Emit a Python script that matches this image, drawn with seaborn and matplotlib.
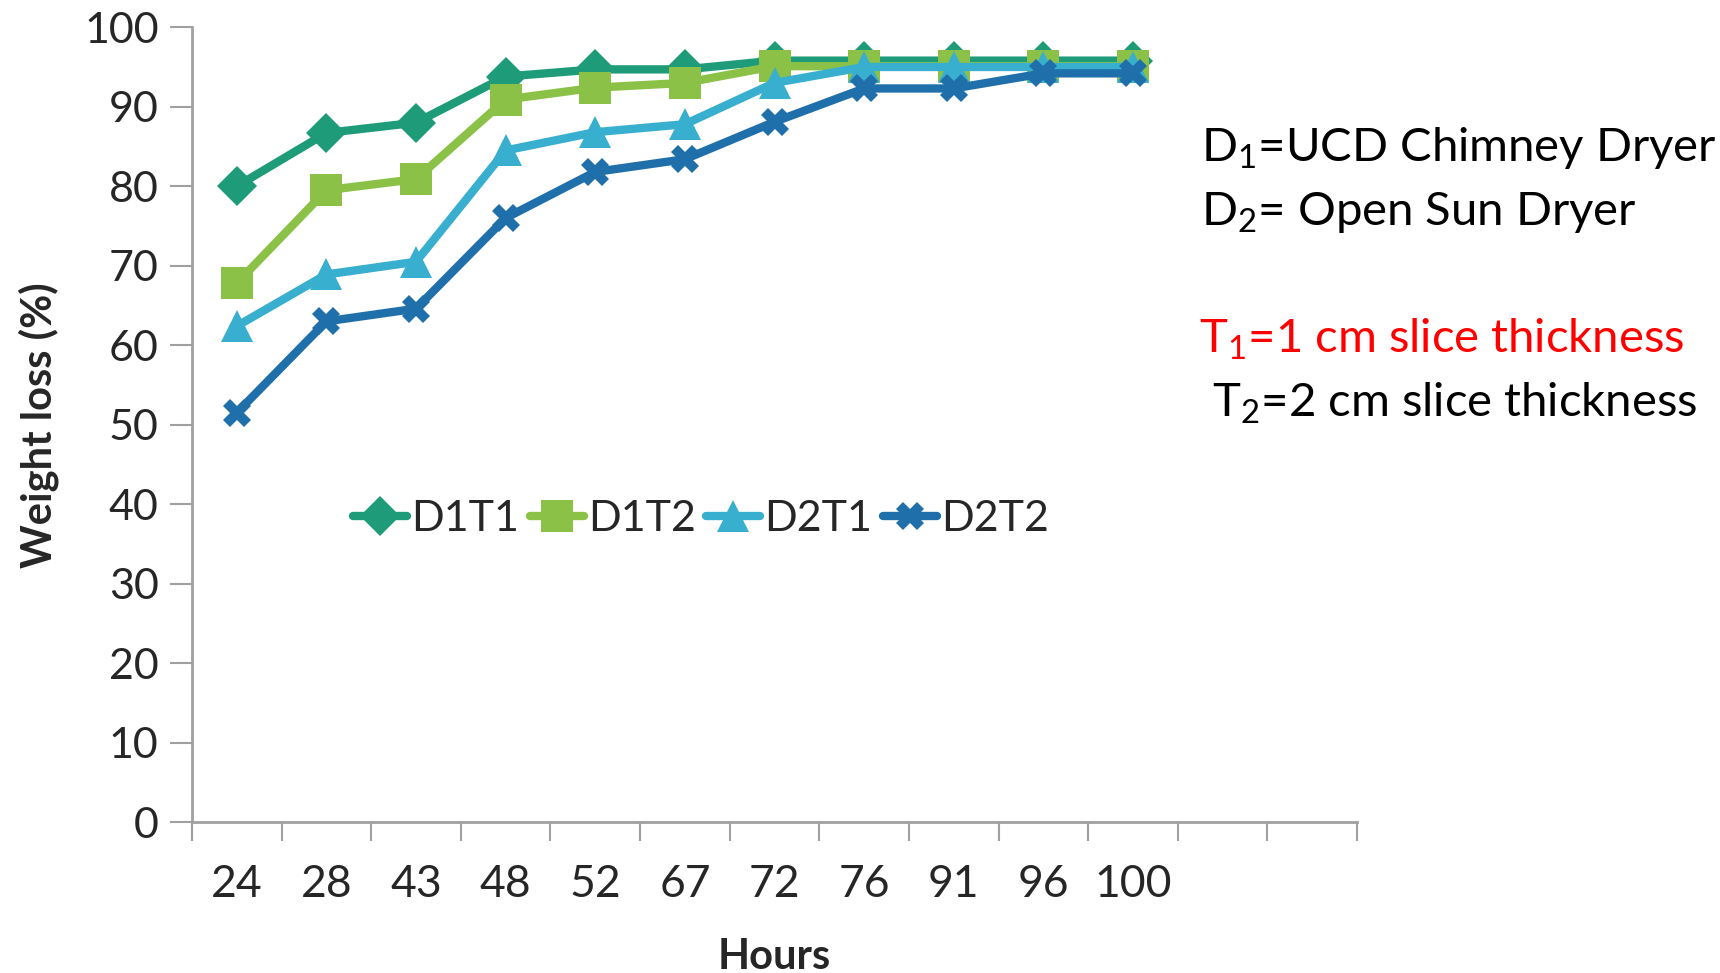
import matplotlib
matplotlib.use("Agg")
import matplotlib.pyplot as plt
import seaborn as sns
import pandas as pd
import numpy as np

hours = ["24", "28", "43", "48", "52", "67", "72", "76", "91", "96", "100"]
n_slots = 13
d1t1 = [80.0, 86.7, 88.0, 93.8, 94.7, 94.7, 95.8, 95.8, 95.8, 95.8, 95.8]
d1t2 = [67.8, 79.5, 80.9, 90.9, 92.4, 93.0, 95.1, 95.1, 95.1, 95.1, 95.1]
d2t1 = [62.4, 68.9, 70.5, 84.5, 86.8, 87.8, 93.0, 95.0, 95.0, 95.0, 95.0]
d2t2 = [51.5, 63.0, 64.6, 76.0, 81.8, 83.4, 88.1, 92.3, 92.3, 94.2, 94.2]
series_names = ["D1T1", "D1T2", "D2T1", "D2T2"]
colors = ["#1E9B78", "#8BC146", "#39AFCF", "#1F6FAB"]
markers = ["D", "s", "^", "X"]
msizes = [20, 23, 23, 20]

sns.set_theme(style="white")
FONT = "Lato"
plt.rcParams['font.family'] = [FONT, 'DejaVu Sans']
plt.rcParams['mathtext.fontset'] = 'custom'
plt.rcParams['mathtext.rm'] = FONT
plt.rcParams['mathtext.it'] = FONT

rows = []
for name, vals in zip(series_names, [d1t1, d1t2, d2t1, d2t2]):
    for i, v in enumerate(vals):
        rows.append({"pos": i, "value": v, "series": name})
df = pd.DataFrame(rows)

fig = plt.figure(figsize=(17.2, 9.73), dpi=100)
ax = fig.add_axes([0.1116, 0.155, 0.789 - 0.1116, 0.972 - 0.155])

for name, c, m, ms in zip(series_names, colors, markers, msizes):
    sub = df[df["series"] == name]
    sns.lineplot(data=sub, x="pos", y="value", ax=ax, color=c, marker=m,
                 markersize=ms, linewidth=6, markeredgewidth=0,
                 label=name, estimator=None, sort=False)

ax.set_xlim(-0.5, n_slots - 0.5)
ax.set_ylim(0, 100)
ax.set_yticks(np.arange(0, 101, 10))
ax.set_xticks(range(len(hours)))
ax.set_xticklabels(hours)
ax.set_xticks(np.arange(-0.5, n_slots, 1.0), minor=True)
ax.tick_params(axis='x', which='major', length=0, labelsize=32, pad=30)
ax.tick_params(axis='x', which='minor', length=14, width=1.5, color="#A0A0A0", direction='out', bottom=True)
ax.tick_params(axis='y', which='major', length=16, width=1.5, color="#A0A0A0", direction='out', left=True, labelsize=31, pad=8)

for s in ["top", "right"]:
    ax.spines[s].set_visible(False)
for s in ["left", "bottom"]:
    ax.spines[s].set_color("#A0A0A0")
    ax.spines[s].set_linewidth(2)

ax.set_xlabel("Hours", fontsize=30, fontweight="bold", labelpad=24)
ax.set_ylabel("Weight loss (%)", fontsize=30, fontweight="bold", labelpad=18)

leg = ax.legend(loc="center", bbox_to_anchor=(0.4076, 0.4666), bbox_transform=fig.transFigure,
                ncol=4, frameon=False, fontsize=31, handlelength=1.25, handletextpad=0.1,
                columnspacing=0.25, borderpad=0)

fs = 34
fig.text(1201 / 1720, 1 - 161 / 973, r"D$_{\mathrm{1}}$=UCD Chimney Dryer", fontsize=fs, color="black", va="baseline")
fig.text(1201 / 1720, 1 - 225 / 973, r"D$_{\mathrm{2}}$= Open Sun Dryer", fontsize=fs, color="black", va="baseline")
fig.text(1199 / 1720, 1 - 353 / 973, r"T$_{\mathrm{1}}$=1 cm slice thickness", fontsize=fs, color="#FF0000", va="baseline")
fig.text(1212 / 1720, 1 - 417 / 973, r"T$_{\mathrm{2}}$=2 cm slice thickness", fontsize=fs, color="black", va="baseline")

fig.savefig("out.png", dpi=100)
